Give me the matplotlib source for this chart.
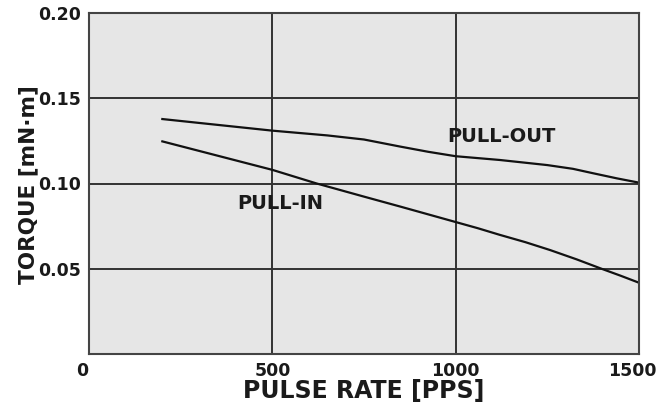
import matplotlib
matplotlib.use("Agg")
import matplotlib.pyplot as plt
from matplotlib.transforms import ScaledTranslation

plt.rcParams['font.family'] = ['DejaVu Sans']

# pulse rate [pps] and torque [mN·m]
pull_out_x = [200, 350, 500, 650, 750, 850, 925, 1000, 1120, 1250, 1320, 1375, 1440, 1500]
pull_out_y = [0.1378, 0.1344, 0.131, 0.1282, 0.1258, 0.1216, 0.1186, 0.116, 0.1138, 0.1108,
              0.1086, 0.106, 0.103, 0.1005]
pull_in_x = [200, 500, 621, 750, 850, 1000, 1060, 1120, 1190, 1257, 1330, 1394, 1450, 1500]
pull_in_y = [0.1247, 0.108, 0.100, 0.0923, 0.0864, 0.0774, 0.0738, 0.0699, 0.0656, 0.061,
             0.0555, 0.0503, 0.0459, 0.0418]

xticks = [0, 500, 1000, 1500]
yticks = [0.05, 0.10, 0.15, 0.20]
ytick_labels = ['0.05', '0.10', '0.15', '0.20']

fig = plt.figure(figsize=(6.72, 4.05), dpi=100)
ax = fig.add_axes([89 / 672, 1 - 354 / 405, 550 / 672, 341 / 405])
ax.set_facecolor('#e6e6e6')

ax.plot(pull_out_x, pull_out_y, color='#111111', lw=1.6)
ax.plot(pull_in_x, pull_in_y, color='#111111', lw=1.6)

ax.set_xlim(0, 1500)
ax.set_ylim(0, 0.20)
ax.set_xticks(xticks)
ax.set_xticklabels([str(v) for v in xticks])
ax.set_yticks(yticks)
ax.set_yticklabels(ytick_labels)
ax.tick_params(length=0, labelsize=12.5, pad=6, colors='#1a1a1a')
for lab in ax.get_xticklabels() + ax.get_yticklabels():
    lab.set_fontweight('bold')
# end labels sit a little left of their ticks
xl = ax.get_xticklabels()
xl[0].set_transform(xl[0].get_transform() + ScaledTranslation(-0.07, 0, fig.dpi_scale_trans))
xl[-1].set_transform(xl[-1].get_transform() + ScaledTranslation(-0.07, 0, fig.dpi_scale_trans))

ax.grid(True, color='#333333', lw=1.4)
ax.set_axisbelow(True)
for s in ax.spines.values():
    s.set_color('#444444')
    s.set_linewidth(1.5)

ax.text(1124, 0.1273, 'PULL-OUT', fontsize=14, fontweight='bold', ha='center', va='center', color='#1a1a1a')
ax.text(522, 0.0881, 'PULL-IN', fontsize=14, fontweight='bold', ha='center', va='center', color='#1a1a1a')

ax.set_xlabel('PULSE RATE [PPS]', fontsize=17, fontweight='bold', color='#1a1a1a', va='center')
ax.xaxis.set_label_coords((364 - 89) / 550, -(391 - 354) / 341)
ax.set_ylabel('TORQUE [mN·m]', fontsize=15.5, fontweight='bold', color='#1a1a1a', va='center')
ax.yaxis.set_label_coords(-(89 - 28) / 550, (354 - 184.5) / 341)

fig.savefig('out.png', dpi=100)
